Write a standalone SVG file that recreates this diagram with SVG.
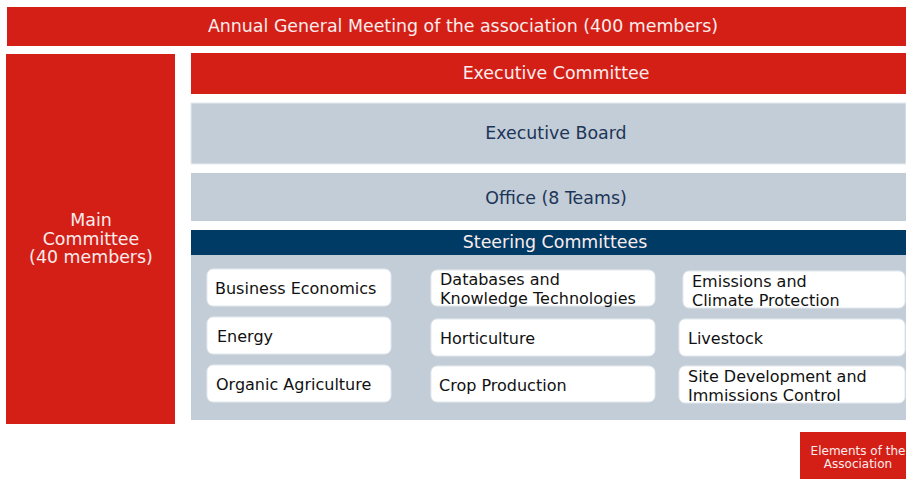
<svg xmlns="http://www.w3.org/2000/svg" width="906" height="479" viewBox="0 0 906 479">
<style>
text{font-family:"DejaVu Sans",Verdana,sans-serif}
.red{fill:#D41F17}
.gray{fill:#C3CDD7}
.wt{fill:#FBECEC;font-size:17.4px}
.nt{fill:#1D3557;font-size:17.4px}
.box{fill:#FFFFFF;stroke:#E3E8EE;stroke-width:1}
.bt{fill:#111111;font-size:16px}
</style>
<rect width="906" height="479" fill="#FFFFFF"/>
<g id="agm">
<rect class="red" x="7" y="7" width="899" height="39"/>
<text class="wt" x="463" y="32" text-anchor="middle">Annual General Meeting of the association (400 members)</text>
</g>
<g id="main-committee">
<rect class="red" x="6" y="54" width="169" height="370"/>
<text class="wt" text-anchor="middle"><tspan x="91" y="226">Main</tspan><tspan x="91" y="245">Committee</tspan><tspan x="91" y="263">(40 members)</tspan></text>
</g>
<g id="executive-committee">
<rect class="red" x="191" y="53" width="715" height="41"/>
<text class="wt" x="556" y="79" text-anchor="middle">Executive Committee</text>
</g>
<g id="executive-board">
<rect class="gray" x="191" y="103" width="715" height="61" stroke="#E6EBF0" stroke-width="1"/>
<text class="nt" x="556" y="139" text-anchor="middle">Executive Board</text>
</g>
<g id="office">
<rect class="gray" x="191" y="173" width="715" height="48"/>
<text class="nt" x="556" y="204" text-anchor="middle">Office (8 Teams)</text>
</g>
<g id="steering-committees">
<rect class="gray" x="191" y="255" width="715" height="165"/>
<rect x="191" y="230" width="715" height="25" fill="#003B66"/>
<text class="wt" x="555" y="248" text-anchor="middle">Steering Committees</text>
</g>
<g id="business-economics">
<rect class="box" x="207" y="269" width="184" height="37" rx="6"/>
<text class="bt" x="215" y="294">Business Economics</text>
</g>
<g id="databases">
<rect class="box" x="431" y="270" width="224" height="36" rx="6"/>
<text class="bt"><tspan x="440" y="285">Databases and</tspan><tspan x="440" y="304">Knowledge Technologies</tspan></text>
</g>
<g id="emissions">
<rect class="box" x="683" y="271" width="222" height="37" rx="6"/>
<text class="bt"><tspan x="692" y="287">Emissions and</tspan><tspan x="692" y="306">Climate Protection</tspan></text>
</g>
<g id="energy">
<rect class="box" x="207" y="317" width="184" height="37" rx="6"/>
<text class="bt" x="217" y="342">Energy</text>
</g>
<g id="horticulture">
<rect class="box" x="431" y="319" width="224" height="37" rx="6"/>
<text class="bt" x="440" y="344">Horticulture</text>
</g>
<g id="livestock">
<rect class="box" x="679" y="319" width="226" height="37" rx="6"/>
<text class="bt" x="688" y="344">Livestock</text>
</g>
<g id="organic-agriculture">
<rect class="box" x="207" y="365" width="184" height="37" rx="6"/>
<text class="bt" x="216" y="390">Organic Agriculture</text>
</g>
<g id="crop-production">
<rect class="box" x="431" y="366" width="224" height="36" rx="6"/>
<text class="bt" x="439" y="391">Crop Production</text>
</g>
<g id="site-development">
<rect class="box" x="679" y="366" width="226" height="37" rx="6"/>
<text class="bt"><tspan x="688" y="382">Site Development and</tspan><tspan x="688" y="401">Immissions Control</tspan></text>
</g>
<g id="legend">
<rect class="red" x="800" y="432" width="106" height="47"/>
<text fill="#FBECEC" font-size="12" text-anchor="middle"><tspan x="858" y="455">Elements of the</tspan><tspan x="858" y="468">Association</tspan></text>
</g>
<g id="connectors"></g>
</svg>
